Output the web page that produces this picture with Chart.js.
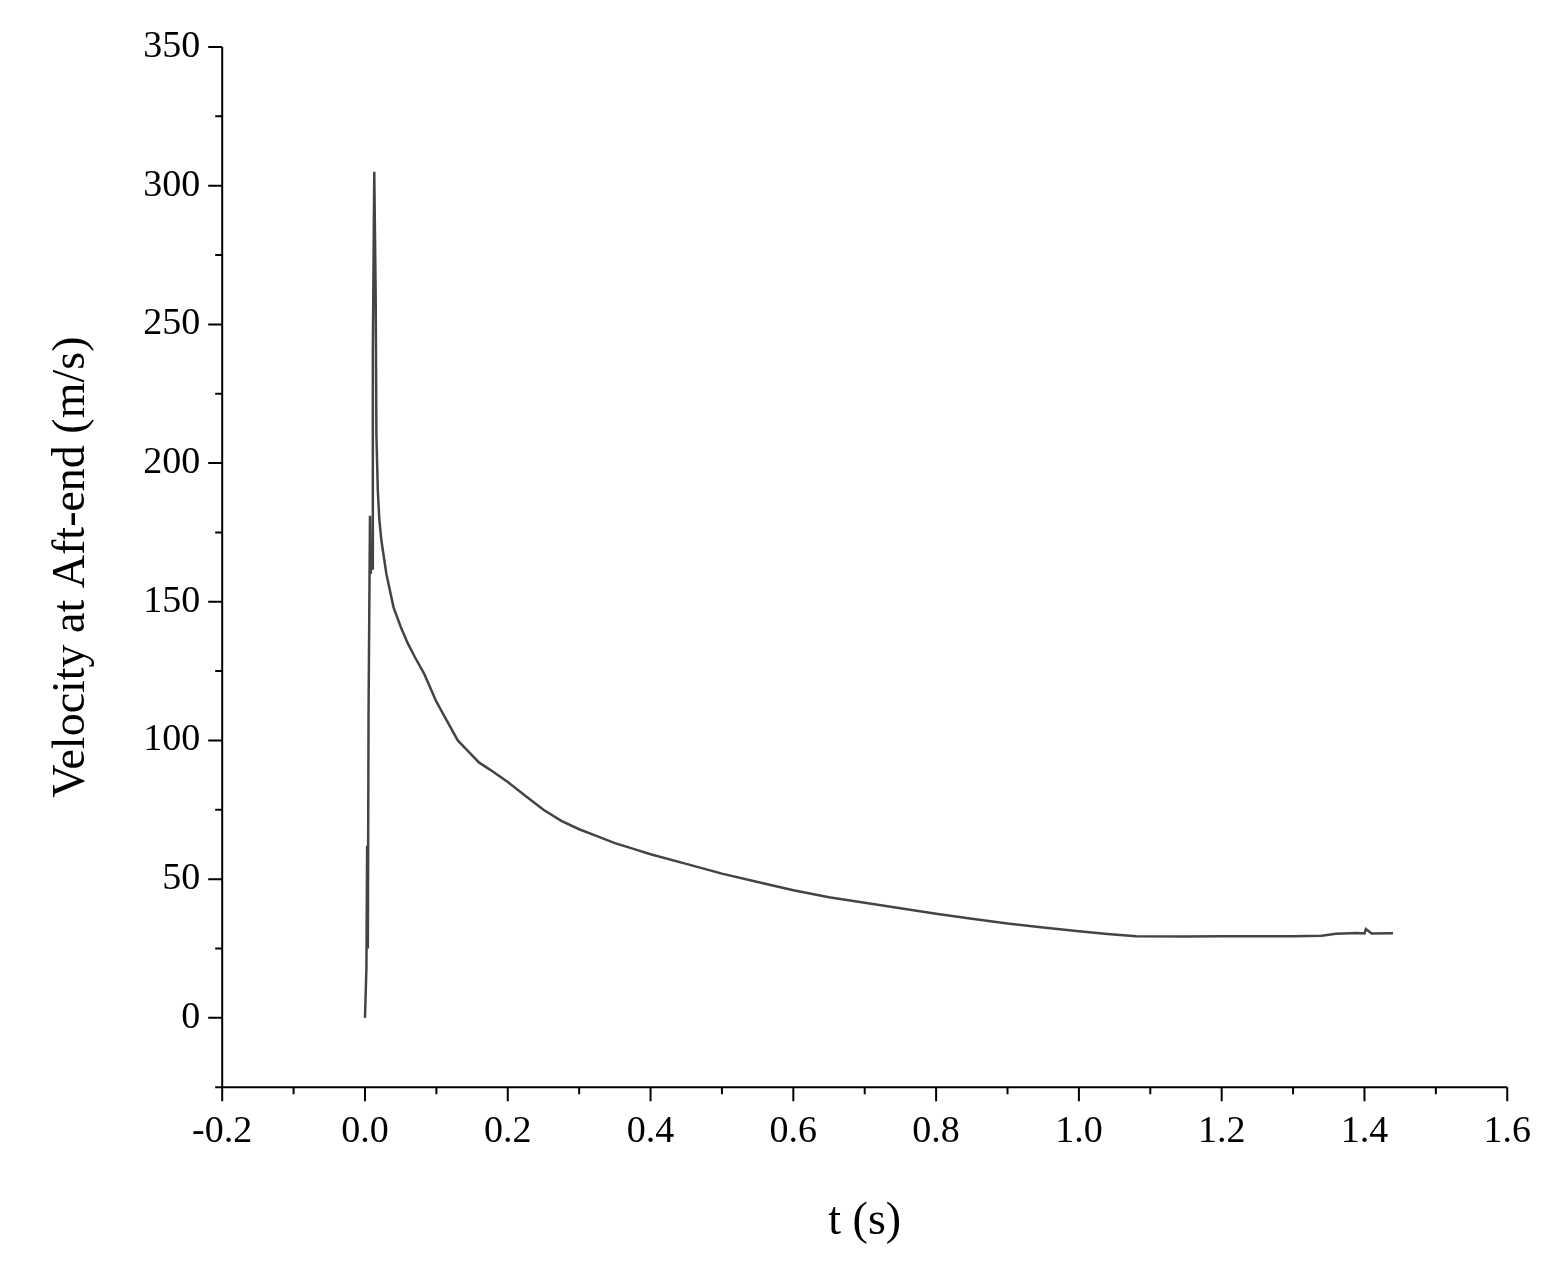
<!DOCTYPE html>
<html><head><meta charset="utf-8">
<script src="https://cdn.jsdelivr.net/npm/chart.js@4/dist/chart.umd.min.js"></script>
<style>html,body{margin:0;background:#fff}#wrap{width:1553px;height:1272px}</style>
</head><body><div id="wrap"><canvas id="c"></canvas></div>
<script>
const tValues = [0, 0.002, 0.003, 0.004, 0.005, 0.007, 0.008, 0.009, 0.010, 0.011, 0.013, 0.015, 0.016, 0.018, 0.020, 0.023, 0.030, 0.040, 0.050, 0.060, 0.070, 0.083, 0.100, 0.115, 0.130, 0.145, 0.160, 0.175, 0.200, 0.225, 0.250, 0.275, 0.300, 0.325, 0.350, 0.375, 0.400, 0.450, 0.500, 0.550, 0.600, 0.650, 0.700, 0.750, 0.800, 0.850, 0.900, 0.950, 1.000, 1.040, 1.080, 1.150, 1.200, 1.300, 1.340, 1.360, 1.390, 1.400, 1.402, 1.410, 1.440];
const vValues = [0, 18, 62, 25, 110, 181, 160, 165, 162, 240, 305, 260, 210, 190, 180, 172, 160, 148, 141, 135, 130, 124, 114, 107, 100, 96, 92, 89.5, 85, 80, 75, 71, 68, 65.5, 63, 61, 59, 55.5, 52, 49, 46, 43.5, 41.5, 39.5, 37.5, 35.7, 34, 32.6, 31.2, 30.2, 29.4, 29.3, 29.4, 29.4, 29.6, 30.3, 30.6, 30.4, 32, 30.4, 30.5];
const xMajor = [-0.2, 0, 0.2, 0.4, 0.6, 0.8, 1.0, 1.2, 1.4, 1.6];
const yMajor = [0, 50, 100, 150, 200, 250, 300, 350];

const font = 'Liberation Serif, Times New Roman, serif';
const minorTicks = {
  id: 'minorTicks',
  afterDraw(chart) {
    const ctx = chart.ctx, xs = chart.scales.x, ys = chart.scales.y, a = chart.chartArea;
    ctx.save(); ctx.strokeStyle = '#000'; ctx.lineWidth = 2;
    ctx.beginPath();
    ctx.moveTo(a.left, a.top); ctx.lineTo(a.left, a.bottom); ctx.lineTo(a.right, a.bottom);
    for (let v = -0.2; v <= 1.601; v += 0.1) {
      const p = xs.getPixelForValue(v), major = Math.abs(Math.round(v * 10)) % 2 === 0;
      ctx.moveTo(p, a.bottom); ctx.lineTo(p, a.bottom + (major ? 14 : 7));
    }
    for (let v = -25; v <= 350; v += 25) {
      const p = ys.getPixelForValue(v), major = v % 50 === 0;
      ctx.moveTo(a.left, p); ctx.lineTo(a.left - (major ? 14 : 7), p);
    }
    ctx.stroke(); ctx.restore();
  }
};

new Chart(document.getElementById('c'), {
  type: 'line',
  data: { datasets: [{ data: tValues.map((t, i) => ({ x: t, y: vValues[i] })), borderColor: '#444', borderWidth: 2.5, pointRadius: 0, tension: 0 }] },
  options: {
    responsive: true, maintainAspectRatio: false, animation: false,
    layout: { padding: { top: 47, right: 28, left: 40, bottom: 18 } },
    plugins: { legend: { display: false }, tooltip: { enabled: false } },
    scales: {
      x: {
        type: 'linear', min: -0.2, max: 1.6, border: { display: false },
        grid: { display: false, drawTicks: false },
        afterBuildTicks: s => { s.ticks = xMajor.map(v => ({ value: v })); },
        ticks: { padding: 22, color: '#000', font: { family: font, size: 38 }, maxRotation: 0, callback: v => v.toFixed(1) },
        title: { display: true, text: 't (s)', color: '#000', font: { family: font, size: 46 }, padding: { top: 18 } }
      },
      y: {
        min: -25, max: 350, border: { display: false },
        grid: { display: false, drawTicks: false },
        afterBuildTicks: s => { s.ticks = yMajor.map(v => ({ value: v })); },
        ticks: { padding: 22, color: '#000', font: { family: font, size: 38 } },
        title: { display: true, text: 'Velocity at Aft-end (m/s)', color: '#000', font: { family: font, size: 46 }, padding: { bottom: 22 } }
      }
    }
  },
  plugins: [minorTicks]
});
</script></body></html>
